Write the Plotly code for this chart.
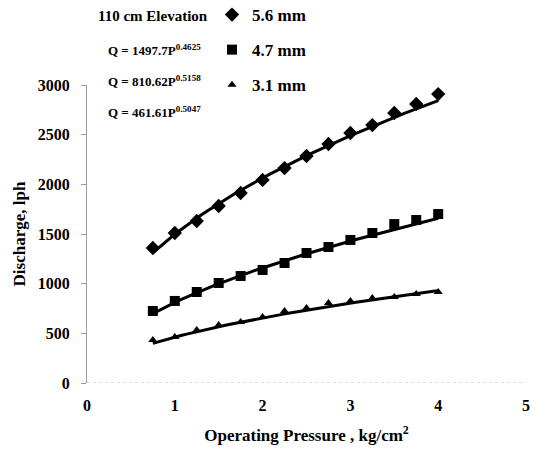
import plotly.graph_objects as go
import numpy as np

pressure = [0.75, 1.0, 1.25, 1.5, 1.75, 2.0, 2.25, 2.5, 2.75, 3.0, 3.25, 3.5, 3.75, 4.0]
q_56 = [1359, 1510, 1631, 1782, 1913, 2044, 2164, 2285, 2406, 2517, 2597, 2718, 2809, 2909]
q_47 = [725, 826, 916, 1007, 1077, 1138, 1208, 1309, 1369, 1440, 1510, 1600, 1641, 1701]
q_31 = [433, 463, 534, 584, 614, 664, 725, 755, 805, 826, 856, 866, 896, 916]

series_names = ["5.6 mm", "4.7 mm", "3.1 mm"]
series_symbols = ["diamond", "square", "triangle-up"]
series_sizes = [11, 10, 8]
fit_a = [1497.7, 810.62, 461.61]
fit_b = [0.4625, 0.5158, 0.5047]
equations = ["Q = 1497.7P<sup>0.4625</sup>", "Q = 810.62P<sup>0.5158</sup>", "Q = 461.61P<sup>0.5047</sup>"]
x_ticks = [0, 1, 2, 3, 4, 5]
y_ticks = [0, 500, 1000, 1500, 2000, 2500, 3000]

FONT = "Liberation Serif"
fig = go.Figure()

p_fit = np.linspace(min(pressure), max(pressure), 60)
for i, q in enumerate([q_56, q_47, q_31]):
    fig.add_trace(go.Scatter(
        x=p_fit, y=fit_a[i] * p_fit ** fit_b[i], mode="lines",
        line=dict(color="black", width=3), showlegend=False, hoverinfo="skip"))
    fig.add_trace(go.Scatter(
        x=pressure, y=q, mode="markers", name="<b>" + series_names[i] + "</b>",
        legendgroup=series_names[i],
        marker=dict(symbol=series_symbols[i], size=series_sizes[i], color="black")))

bold = dict(family=FONT, color="black", weight="bold")
fig.update_layout(
    width=537, height=455,
    margin=dict(l=87, r=11, t=85, b=72, autoexpand=False),
    paper_bgcolor="white", plot_bgcolor="white",
    font=dict(family=FONT, color="black", size=14),
    showlegend=True,
    legend=dict(x=(212 - 87) / 439, y=1.0 + (85 + 3) / 298, xanchor="left", yanchor="top",
                xref="paper", yref="paper",
                font=dict(size=17, **bold),
                tracegroupgap=10, bgcolor="rgba(0,0,0,0)", itemclick=False),
    xaxis=dict(range=[0, 5], tickvals=x_ticks, showgrid=False, zeroline=False,
               showline=False, ticks="", tickfont=dict(size=16, **bold),
               ticklabelstandoff=11,
               title=dict(text="<b>Operating Pressure , kg/cm<sup>2</sup></b>",
                          font=dict(size=17, **bold), standoff=16)),
    yaxis=dict(range=[0, 3000], tickvals=y_ticks, showgrid=False, zeroline=False,
               showline=True, linecolor="#9a9a9a", linewidth=1,
               ticks="outside", ticklen=5, tickcolor="#9a9a9a",
               tickfont=dict(size=16, **bold),
               ticklabelstandoff=8,
               title=dict(text="<b>Discharge, lph</b>",
                          font=dict(size=17, **bold), standoff=7)),
)

fig.add_shape(type="line", xref="x", yref="y", x0=0, x1=5.1, y0=0, y1=0,
              line=dict(color="#bbbbbb", width=1, dash="dot"))

fig.add_annotation(text="<b>110 cm Elevation</b>", xref="paper", yref="paper",
                   x=(96 - 87) / 439, y=1.0 + (85 - 16) / 298, xanchor="left", yanchor="middle",
                   showarrow=False, font=dict(size=15, **bold))
eq_y = [50, 81, 112]
for i, t in enumerate(equations):
    fig.add_annotation(text="<b>" + t + "</b>", xref="paper", yref="paper",
                       x=(106 - 87) / 439, y=1.0 + (85 - eq_y[i]) / 298, xanchor="left", yanchor="middle",
                       showarrow=False, font=dict(size=13, **bold))

fig.write_html("out.html")
